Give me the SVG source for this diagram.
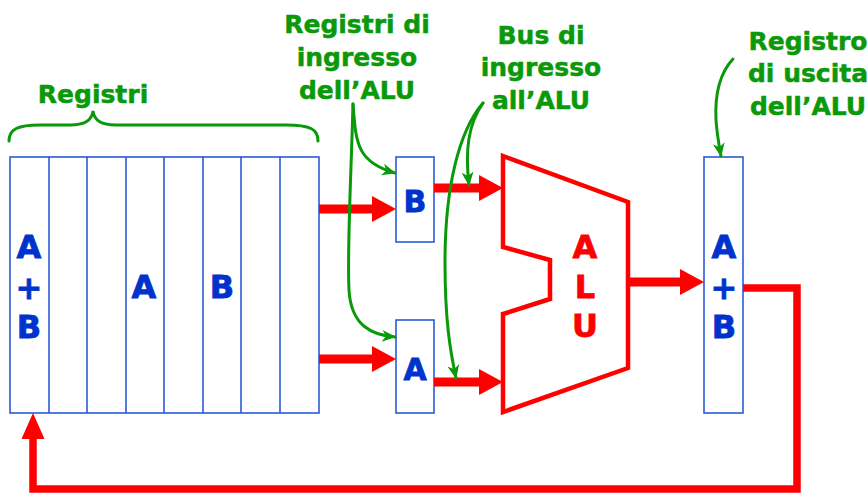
<svg xmlns="http://www.w3.org/2000/svg" width="868" height="493" viewBox="0 0 868 493">
<defs>
<style>
.reg{fill:#fff;stroke:#2a5ad8;stroke-width:1.6}
.div{stroke:#2a5ad8;stroke-width:1.6}
.bl{font-family:"DejaVu Sans",Verdana,sans-serif;font-weight:bold;font-size:32px;fill:#0033cc;stroke:#0033cc;stroke-width:0.8;text-anchor:middle}
.rd{font-family:"DejaVu Sans",Verdana,sans-serif;font-weight:bold;font-size:32px;fill:#ff0000;stroke:#ff0000;stroke-width:0.8;text-anchor:middle}
.gr{font-family:"DejaVu Sans",Verdana,sans-serif;font-weight:bold;font-size:25px;fill:#0a990a;stroke:#0a990a;stroke-width:0.5;text-anchor:middle}
.gl{fill:none;stroke:#0a990a;stroke-width:3;stroke-linecap:round}
.ra{fill:none;stroke:#ff0000;stroke-width:9}
.fb{fill:none;stroke:#ff0000;stroke-width:7.5;stroke-linejoin:miter}
</style>
<marker id="rh" markerUnits="userSpaceOnUse" viewBox="0 0 24 26" refX="0" refY="13" markerWidth="24" markerHeight="26" orient="auto">
<path d="M0,0 L24,13 L0,26 z" fill="#ff0000"/>
</marker>
<marker id="rh2" markerUnits="userSpaceOnUse" viewBox="0 0 26 23" refX="0" refY="11.5" markerWidth="26" markerHeight="23" orient="auto">
<path d="M0,0 L26,11.5 L0,23 z" fill="#ff0000"/>
</marker>
<marker id="gh" markerUnits="userSpaceOnUse" viewBox="0 0 14 14" refX="13" refY="7" markerWidth="14" markerHeight="14" orient="auto">
<path d="M0,1 L14,7 L0,13 L4,7 z" fill="#0a990a"/>
</marker>
</defs>
<rect width="868" height="493" fill="#fff"/>

<g id="registri">
<rect class="reg" x="10" y="157" width="309" height="256"/>
<line class="div" x1="49" y1="157" x2="49" y2="413"/>
<line class="div" x1="87" y1="157" x2="87" y2="413"/>
<line class="div" x1="126" y1="157" x2="126" y2="413"/>
<line class="div" x1="164" y1="157" x2="164" y2="413"/>
<line class="div" x1="203" y1="157" x2="203" y2="413"/>
<line class="div" x1="241" y1="157" x2="241" y2="413"/>
<line class="div" x1="280" y1="157" x2="280" y2="413"/>
<text class="bl" x="29" y="258">A</text>
<text class="bl" x="29" y="299">+</text>
<text class="bl" x="29" y="338">B</text>
<text class="bl" x="144" y="298">A</text>
<text class="bl" x="222" y="298">B</text>
</g>

<g id="brace">
<path class="gl" d="M9,141 C9,129 18,125 40,125 L70,125 C87,125 92,119 93,111 C94,119 99,125 116,125 L286,125 C310,125 318,129 318,141"/>
<text class="gr" x="93" y="103">Registri</text>
</g>

<g id="regB">
<rect class="reg" x="396" y="157" width="38" height="85"/>
<text class="bl" x="415" y="212" style="font-size:30px">B</text>
</g>

<g id="regA">
<rect class="reg" x="396" y="320" width="38" height="93"/>
<text class="bl" x="415" y="380" style="font-size:30px">A</text>
</g>

<g id="alu">
<polygon points="503,156 628,202 628,368 503,412 503,314 550,299 550,260 503,247" fill="#fff" stroke="#ff0000" stroke-width="4.5" stroke-linejoin="miter"/>
<text class="rd" x="585" y="258">A</text>
<text class="rd" x="585" y="298">L</text>
<text class="rd" x="585" y="337">U</text>
</g>

<g id="regOut">
<rect class="reg" x="704" y="157" width="39" height="256"/>
<text class="bl" x="724" y="258">A</text>
<text class="bl" x="724" y="299">+</text>
<text class="bl" x="724" y="338">B</text>
</g>

<g id="labels">
<text class="gr" x="357" y="33">Registri di</text>
<text class="gr" x="357" y="66">ingresso</text>
<text class="gr" x="357" y="99">dell’ALU</text>
<text class="gr" x="541" y="44">Bus di</text>
<text class="gr" x="541" y="76">ingresso</text>
<text class="gr" x="541" y="109">all’ALU</text>
<text class="gr" x="808" y="50">Registro</text>
<text class="gr" x="808" y="82">di uscita</text>
<text class="gr" x="808" y="115">dell’ALU</text>
</g>

<g id="connectors">
<line class="ra" x1="319" y1="209" x2="372" y2="209" marker-end="url(#rh)"/>
<line class="ra" x1="319" y1="359" x2="372" y2="359" marker-end="url(#rh)"/>
<line class="ra" x1="434" y1="188" x2="479" y2="188" marker-end="url(#rh)"/>
<line class="ra" x1="434" y1="382" x2="479" y2="382" marker-end="url(#rh)"/>
<line class="ra" x1="628" y1="282" x2="680" y2="282" marker-end="url(#rh)"/>
<polyline class="fb" points="743,288 797,288 797,489 33,489 33,439" marker-end="url(#rh2)"/>
<path class="gl" d="M353,104 C356,142 356,162 395,173" marker-end="url(#gh)"/>
<path class="gl" d="M353,104 C351,180 347,250 349,290 C351,326 372,335 395,337" marker-end="url(#gh)"/>
<path class="gl" d="M483,103 C468,125 465,150 469,185" marker-end="url(#gh)"/>
<path class="gl" d="M483,103 C458,132 445,190 445,262 C445,320 450,350 456,378" marker-end="url(#gh)"/>
<path class="gl" d="M733,59 C718,75 715,100 716,120 C717,135 719,145 721,156" marker-end="url(#gh)"/>
</g>
</svg>
